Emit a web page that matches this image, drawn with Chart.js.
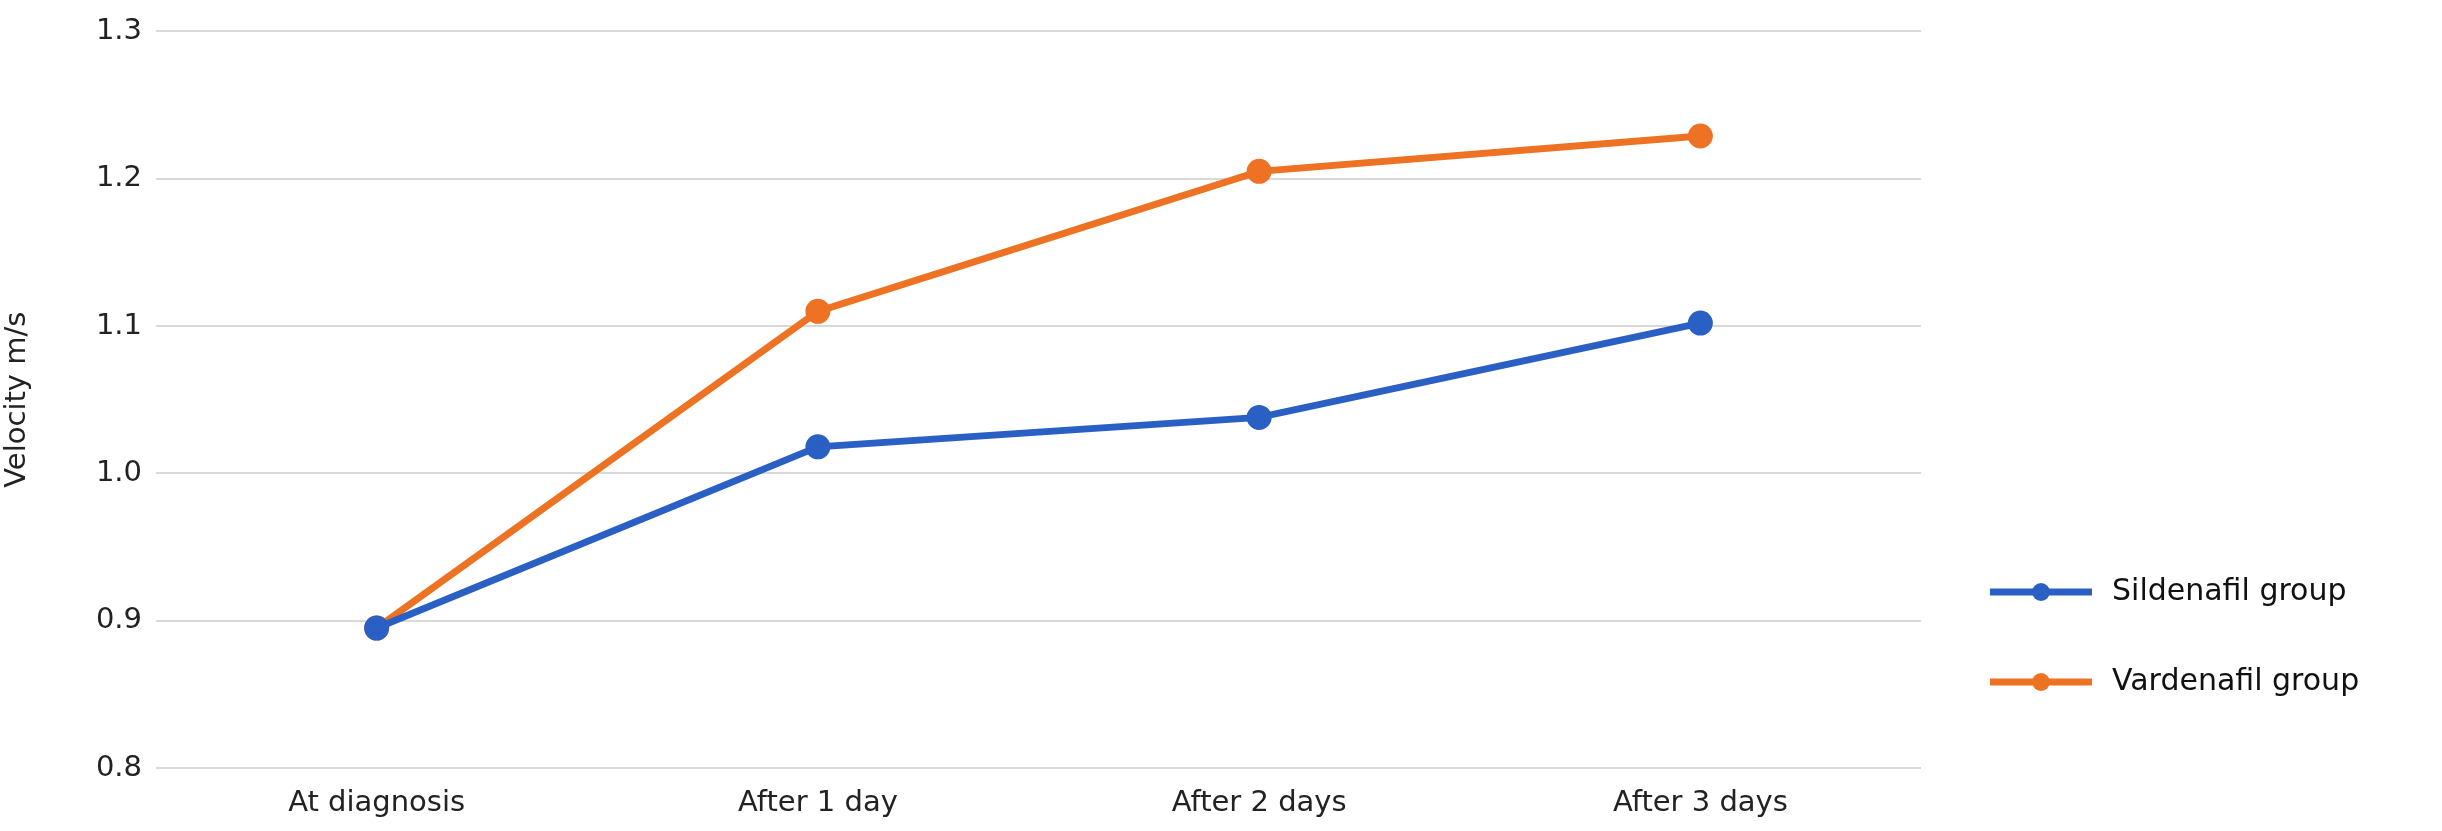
<!DOCTYPE html>
<html><head><meta charset="utf-8">
<script src="https://cdn.jsdelivr.net/npm/chart.js@4"></script>
<style>html,body{margin:0;padding:0;background:#fff}#c{display:block}</style>
</head><body>
<div style="width:2442px;height:831px"><canvas id="c"></canvas></div>
<script>
const categories=["At diagnosis","After 1 day","After 2 days","After 3 days"];
const sildenafil=[0.895,1.018,1.038,1.102];
const vardenafil=[0.895,1.110,1.205,1.229];
const seriesNames=["Sildenafil group","Vardenafil group"];
const colors=["#2a5fc4","#ee7223"];
const FONT='"DejaVu Sans", Verdana, sans-serif';
const legendPlugin={id:'lg',afterDraw(ch){const c=ch.ctx;c.save();
 ch.data.datasets.forEach((d,i)=>{const y=592+i*90;c.strokeStyle=d.borderColor;c.lineWidth=7;c.beginPath();c.moveTo(1990,y);c.lineTo(2092,y);c.stroke();
 c.fillStyle=d.borderColor;c.beginPath();c.arc(2041,y,9,0,Math.PI*2);c.fill();
 c.fillStyle='#111';c.font='30px '+FONT;c.textBaseline='middle';c.fillText(d.label,2112,y);});c.restore();}};
new Chart(document.getElementById('c'),{type:'line',
data:{labels:categories,datasets:[
 {label:seriesNames[0],data:sildenafil,borderColor:colors[0],backgroundColor:colors[0],borderWidth:7,pointRadius:9,pointHoverRadius:9},
 {label:seriesNames[1],data:vardenafil,borderColor:colors[1],backgroundColor:colors[1],borderWidth:7,pointRadius:9,pointHoverRadius:9}]},
options:{responsive:true,maintainAspectRatio:false,animation:false,
 layout:{padding:{top:28,right:521,left:0,bottom:0}},
 plugins:{legend:{display:false},tooltip:{enabled:false}},
 scales:{
  x:{offset:true,grid:{display:false},border:{display:false},ticks:{color:'#222',font:{size:29,family:FONT},padding:10},afterFit(s){s.height=63;}},
  y:{min:0.8,max:1.3,ticks:{stepSize:0.1,color:'#222',font:{size:29,family:FONT},padding:14,callback:v=>v.toFixed(1)},
   grid:{color:'#d9d9d9',lineWidth:2,drawTicks:false},border:{display:false},
   title:{display:true,text:'Velocity m/s',color:'#222',font:{size:29,family:FONT},padding:0},afterFit(s){s.width=156;}}
 }},plugins:[legendPlugin]});
</script></body></html>
